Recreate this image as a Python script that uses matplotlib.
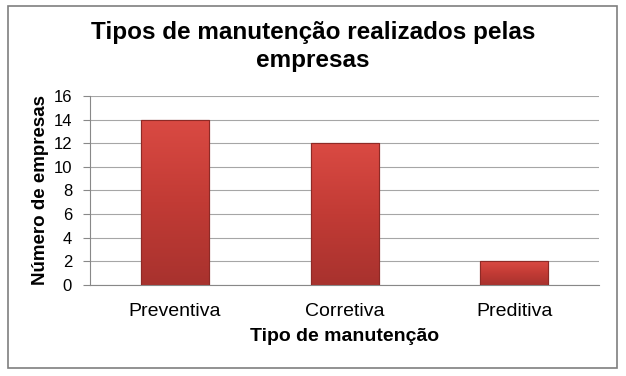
import numpy as np
import matplotlib
matplotlib.use("Agg")
import matplotlib.pyplot as plt
from matplotlib.colors import LinearSegmentedColormap
from matplotlib.patches import Rectangle

plt.rcParams['font.family'] = ['Liberation Sans', 'DejaVu Sans']

categories = ["Preventiva", "Corretiva", "Preditiva"]
values = [14, 12, 2]
yticks = [0, 2, 4, 6, 8, 10, 12, 14, 16]

fig = plt.figure(figsize=(6.26, 3.76), dpi=100)
ax = fig.add_axes([0.144, 0.242, 0.813, 0.503])

x = np.arange(len(categories))
bars = ax.bar(x, values, width=0.4, color="#C83C36", edgecolor="#8E2A26", linewidth=0.8, zorder=2)

# vertical gradient inside each bar (lighter at top, darker at bottom)
cmap = LinearSegmentedColormap.from_list("redgrad", ["#A8322E", "#C23B35", "#DA4A43"])
grad = np.linspace(0, 1, 256).reshape(-1, 1)
for b in bars:
    x0, y0 = b.get_x(), b.get_y()
    w, h = b.get_width(), b.get_height()
    im = ax.imshow(grad, cmap=cmap, origin="lower", aspect="auto",
                   extent=(x0, x0 + w, y0, y0 + h), zorder=2.5)
    im.set_clip_path(b)
    ax.add_patch(Rectangle((x0, y0), w, h, fill=False, edgecolor="#8E2A26", linewidth=0.8, zorder=3))

ax.set_xlim(-0.5, len(categories) - 0.5)
ax.set_ylim(0, 16)
ax.set_yticks(yticks)
ax.set_xticks(x)
ax.set_xticklabels(categories, fontsize=14)
ax.tick_params(axis="y", labelsize=12, length=5, color="#888888", pad=8)
ax.tick_params(axis="x", length=0, pad=13)
ax.grid(axis="y", color="#A6A6A6", linewidth=0.8, zorder=0)
ax.set_axisbelow(True)
for s in ["top", "right"]:
    ax.spines[s].set_visible(False)
ax.spines["left"].set_color("#888888")
ax.spines["bottom"].set_color("#888888")

ax.set_ylabel("Número de empresas", fontsize=13.5, fontweight="bold", labelpad=3)
ax.set_xlabel("Tipo de manutenção", fontsize=14, fontweight="bold", labelpad=6)

fig.text(0.5, 0.877, "Tipos de manutenção realizados pelas\nempresas", ha="center", va="center",
         fontsize=17.5, fontweight="bold", linespacing=1.3)

fig.patches.append(Rectangle((0.013, 0.02), 0.973, 0.965, transform=fig.transFigure,
                             fill=False, edgecolor="#7F7F7F", linewidth=1.2))

fig.savefig("out.png", dpi=100)
